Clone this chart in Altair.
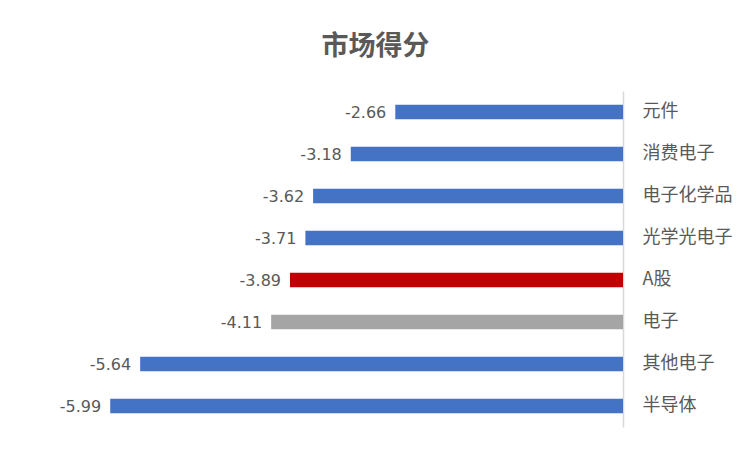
import altair as alt
import pandas as pd

categories = ["元件", "消费电子", "电子化学品", "光学光电子", "A股", "电子", "其他电子", "半导体"]
scores = [-2.66, -3.18, -3.62, -3.71, -3.89, -4.11, -5.64, -5.99]
colors = ["#4472C4", "#4472C4", "#4472C4", "#4472C4", "#C00000", "#A5A5A5", "#4472C4", "#4472C4"]

df = pd.DataFrame({"cat": categories, "score": scores, "color": colors})
df["label"] = df["score"].map(lambda v: f"{v:.2f}")

FONT = "Noto Sans CJK SC"

x = alt.X("score:Q", scale=alt.Scale(domain=[-6.6, 0], nice=False), axis=None)
y = alt.Y("cat:N", sort=categories,
          scale=alt.Scale(paddingInner=0.65, paddingOuter=0.325),
          axis=alt.Axis(orient="right", title=None, ticks=False, labelPadding=19,
                        labelFontSize=18, labelColor="#595959", labelFont=FONT,
                        labelFontWeight="normal",
                        domainColor="#D9D9D9", domainWidth=1.5))

bars = alt.Chart(df).mark_bar().encode(
    x=x, x2=alt.datum(0), y=y, color=alt.Color("color:N", scale=None)
)

text = alt.Chart(df).mark_text(align="right", baseline="middle", dx=-9, dy=1,
                               fontSize=16, color="#595959", font="DejaVu Sans").encode(
    x=x, y=y, text="label:N"
)

chart = (bars + text).properties(
    width=565, height=336,
    title=alt.TitleParams("市场得分", fontSize=27, fontWeight="bold", color="#595959",
                          font=FONT, anchor="middle", dx=35, offset=30),
    autosize=alt.AutoSizeParams(type="none"),
    padding={"left": 50, "top": 83, "right": 119, "bottom": 15},
).configure(background="white", view=alt.ViewConfig(stroke=None))

chart.save("out.html", embed_options={"renderer": "svg", "actions": False})
